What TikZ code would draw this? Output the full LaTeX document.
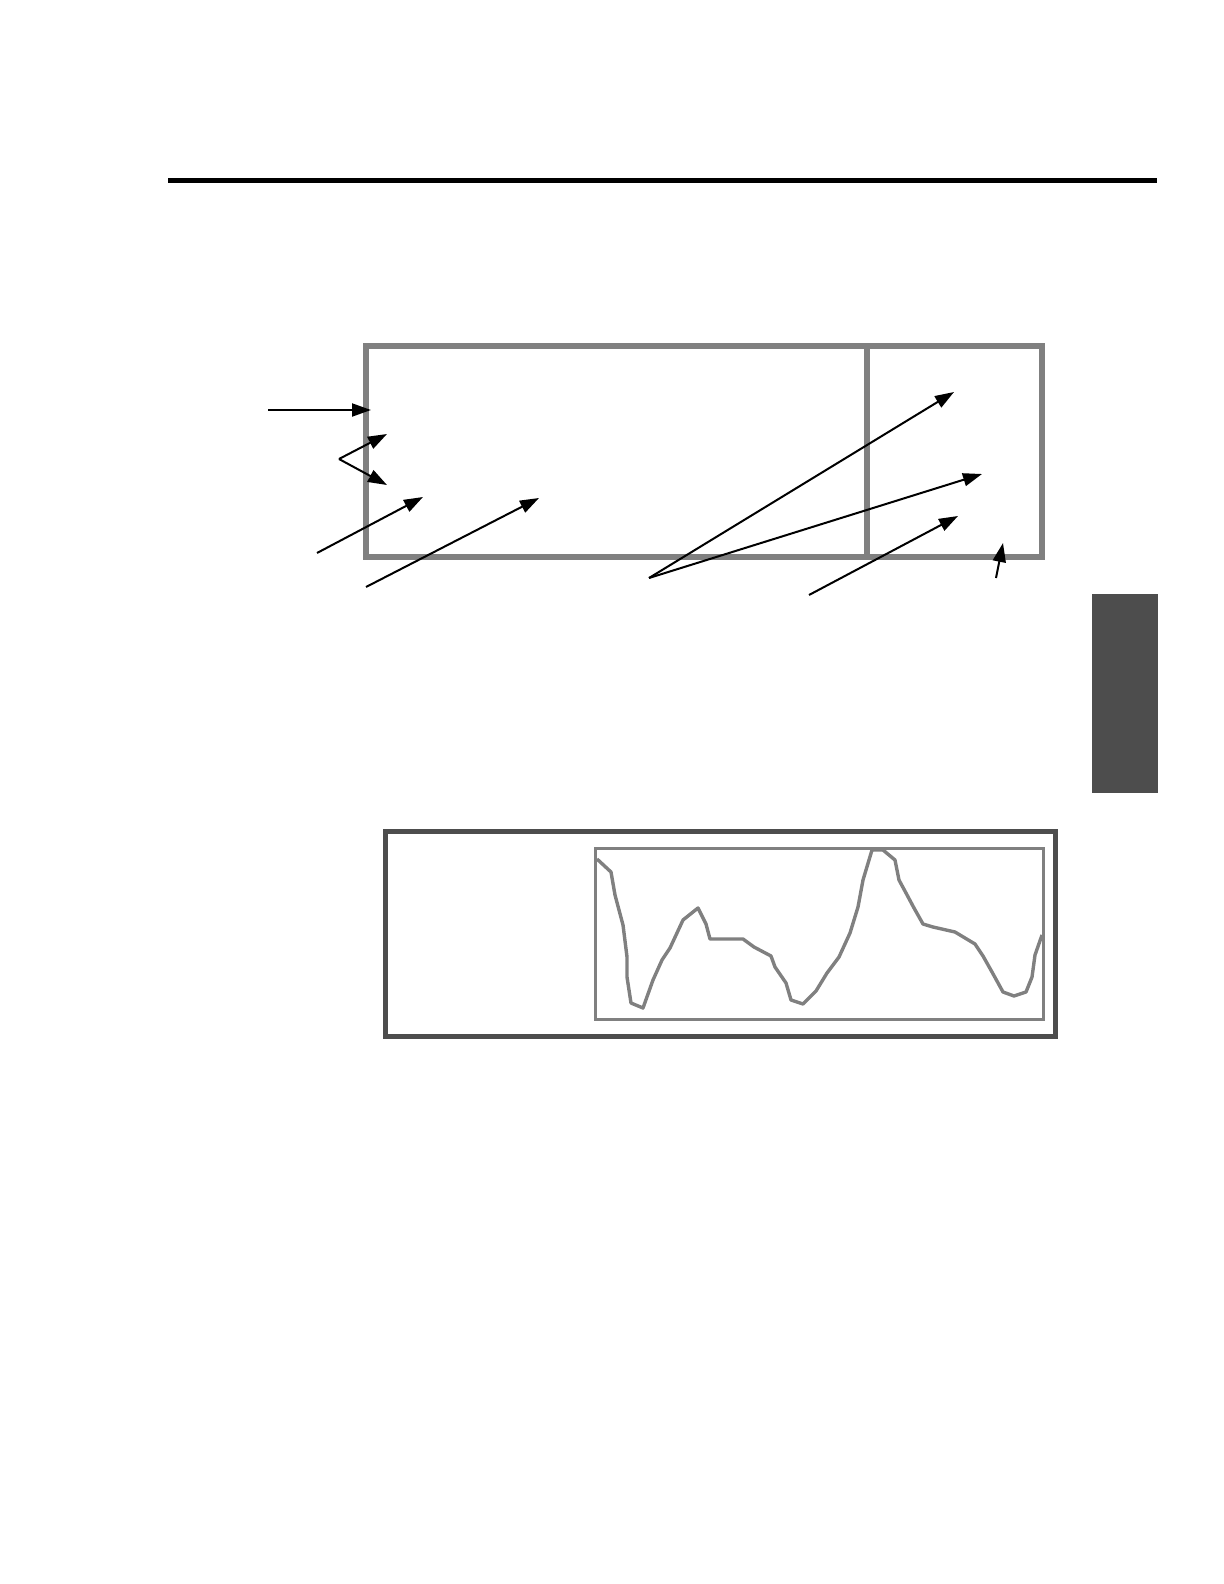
\documentclass[tikz,border=0pt]{standalone}
\usetikzlibrary{arrows.meta}
\definecolor{framegray}{HTML}{808080}
\definecolor{darkgray}{HTML}{4D4D4D}
\tikzset{
  callout/.style={line width=1pt, -{Triangle[length=9.5pt,width=6.5pt]}},
  panel/.style={draw=framegray, line width=3pt},
}
\begin{document}
\begin{tikzpicture}[x=0.5pt,y=-0.5pt]
\useasboundingbox (0,0) rectangle (1224,1584);
% page rule and side tab
\draw[line width=2.5pt] (168,180) -- (1157,180);
\fill[darkgray] (1092,594) rectangle (1158,793);
% front panel
\draw[panel] (366,346) rectangle (1042,557);
\draw[panel] (867,346) -- (867,557);
% callouts
\coordinate (inA) at (268,410);   \coordinate (tipA) at (371,410);
\coordinate (vtx) at (339,459);   \coordinate (tipB) at (387,434);
\coordinate (tipC) at (387,485);
\coordinate (inD) at (317,553);   \coordinate (tipD) at (423,497);
\coordinate (inE) at (366,587);   \coordinate (tipE) at (539,498);
\coordinate (fan) at (649,578);   \coordinate (tipF) at (954,392);
\coordinate (tipG) at (982,474);
\coordinate (inH) at (809,595);   \coordinate (tipH) at (958,516);
\coordinate (inK) at (996,578);   \coordinate (tipK) at (1003,543);
\draw[callout] (inA) -- (tipA);
\draw[callout] (vtx) -- (tipB);
\draw[callout] (vtx) -- (tipC);
\draw[callout] (inD) -- (tipD);
\draw[callout] (inE) -- (tipE);
\draw[callout] (fan) -- (tipF);
\draw[callout] (fan) -- (tipG);
\draw[callout] (inH) -- (tipH);
\draw[callout] (inK) -- (tipK);
% display window
\draw[darkgray, line width=2.5pt] (385,831) rectangle (1055,1036);
\draw[framegray, line width=1.5pt] (595,848) rectangle (1043,1019);
\draw[framegray, line width=1.7pt, line join=round]
  (597,859) -- (611,872) -- (615,895) -- (623,925) -- (627,957) -- (627,977)
  -- (631,1003) -- (643,1008) -- (653,980) -- (662,960) -- (670,948)
  -- (683,920) -- (698,908) -- (706,924) -- (710,939) -- (743,939)
  -- (754,947) -- (771,956) -- (775,967) -- (786,983) -- (791,1000)
  -- (803,1004) -- (816,991) -- (827,973) -- (839,957) -- (850,933)
  -- (858,907) -- (863,880) -- (872,850) -- (883,850) -- (895,860)
  -- (899,880) -- (906,893) -- (914,908) -- (923,924) -- (933,927)
  -- (955,932) -- (975,944) -- (983,956) -- (992,972) -- (1003,992)
  -- (1014,996) -- (1026,992) -- (1032,977) -- (1035,955) -- (1042,935);
\end{tikzpicture}
\end{document}
